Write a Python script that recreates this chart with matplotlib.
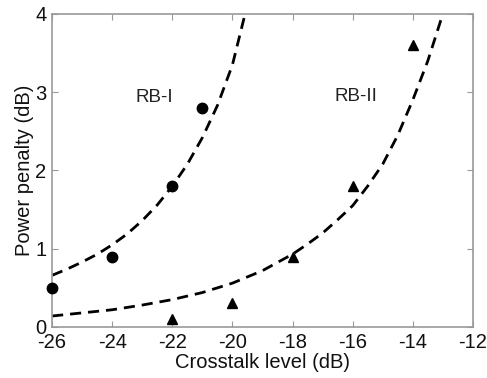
import matplotlib
matplotlib.use("Agg")
import matplotlib.pyplot as plt

plt.rcParams['font.family'] = ['Liberation Sans', 'DejaVu Sans']

# Measured points
rb1_x = [-26, -24, -22, -21]
rb1_y = [0.5, 0.9, 1.8, 2.8]
rb2_x = [-22, -20, -18, -16, -14]
rb2_y = [0.1, 0.3, 0.9, 1.8, 3.6]

# Dashed fit curves
fit1_x = [-26, -25.5, -25, -24.5, -24, -23.5, -23, -22.5, -22, -21.5, -21, -20.5, -20, -19.58]
fit1_y = [0.66, 0.74, 0.83, 0.93, 1.05, 1.19, 1.36, 1.56, 1.80, 2.08, 2.42, 2.83, 3.35, 4.0]
fit2_x = [-26, -25, -24, -23, -22, -21, -20, -19, -18, -17.5, -17, -16.5, -16, -15.5, -15, -14.5, -14, -13.5, -13]
fit2_y = [0.14, 0.18, 0.22, 0.28, 0.35, 0.44, 0.56, 0.72, 0.93, 1.06, 1.20, 1.37, 1.55, 1.80, 2.08, 2.45, 2.90, 3.40, 4.0]

xticks = [-26, -24, -22, -20, -18, -16, -14, -12]
yticks = [0, 1, 2, 3, 4]

fig = plt.figure(figsize=(4.87, 3.78), dpi=100)
ax = fig.add_axes([0.107, 0.135, 0.864, 0.828])

ax.plot(fit1_x, fit1_y, color='black', lw=2, dashes=(4, 2.5), clip_on=True)
ax.plot(fit2_x, fit2_y, color='black', lw=2, dashes=(4, 2.5), clip_on=True)
ax.plot(rb1_x, rb1_y, 'o', color='black', ms=7.5, clip_on=False, zorder=5)
ax.plot(rb2_x, rb2_y, '^', color='black', ms=6.5, clip_on=False, zorder=5)

ax.text(-22.6, 2.93, 'RB-I', fontsize=13.5, ha='center', va='center', color='#222222')
ax.text(-15.9, 2.94, 'RB-II', fontsize=13.5, ha='center', va='center', color='#222222')

ax.set_xlim(-26, -12)
ax.set_ylim(0, 4)
ax.set_xticks(xticks)
ax.set_yticks(yticks)
ax.set_xticklabels([str(t) for t in xticks])
ax.set_yticklabels([str(t) for t in yticks])
ax.tick_params(direction='in', top=True, right=True, length=4, width=0.8,
               color='#999999', labelsize=14.5, pad=4, labelcolor='#111111')
for s in ax.spines.values():
    s.set_color('#999999')
    s.set_linewidth(1.2)

ax.set_xlabel('Crosstalk level (dB)', fontsize=14.5, labelpad=1, color='#111111')
ax.set_ylabel('Power penalty (dB)', fontsize=14.5, labelpad=1, color='#111111')

fig.savefig('out.png', dpi=100)
